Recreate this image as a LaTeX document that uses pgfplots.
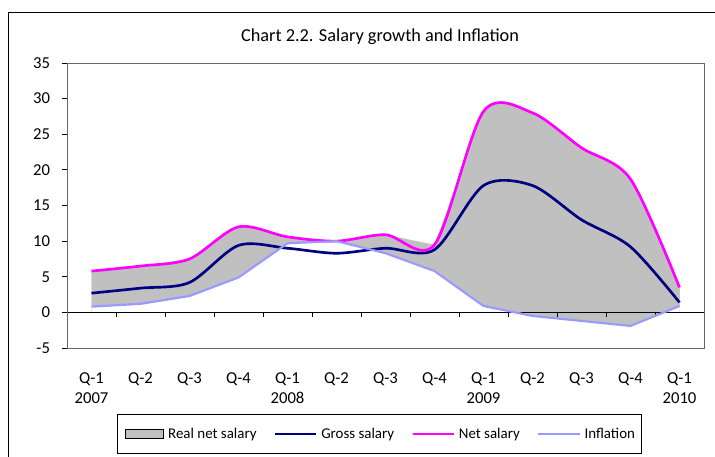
\documentclass[border=0pt]{standalone}
\usepackage{fontspec}
\setmainfont{Carlito}
\usepackage{pgfplots}
\usepackage{pgfplotstable}
\pgfplotsset{compat=1.18}

\definecolor{netc}{HTML}{FF00FF}
\definecolor{grossc}{HTML}{000080}
\definecolor{inflc}{HTML}{9999FF}
\definecolor{areac}{HTML}{C0C0C0}

% quarterly growth rates, %
\pgfplotstableread{
x net gross infl
0 5.8 2.7 0.8
1 6.5 3.4 1.2
2 7.5 4.2 2.3
3 12.0 9.4 4.9
4 10.6 9.0 9.7
5 10.0 8.3 10.0
6 10.9 9.0 8.3
7 9.5 8.8 5.8
8 28.2 17.8 0.9
9 28.0 17.8 -0.5
10 23.1 13.0 -1.2
11 18.7 9.2 -1.9
12 3.5 1.4 0.9
}\salary

\begin{document}
\begin{tikzpicture}
\path[use as bounding box] (0,0) rectangle (536.25pt,-342.75pt);
\draw[black, line width=0.75pt] (6pt,-600pt) -- (6pt,-9pt) -- (900pt,-9pt);
\node[anchor=base, font=\fontsize{13.7}{16}\selectfont] at (285pt,-30.75pt) {Chart 2.2. Salary growth and Inflation};

\begin{axis}[
    at={(50.25pt,-261pt)}, anchor=south west,
    scale only axis, width=477.75pt, height=213.75pt,
    xmin=-0.5, xmax=12.5, ymin=-5, ymax=35,
    ytick={-5,0,...,35},
    xtick={0,...,12},
    xticklabels={{Q-1\\2007},Q-2,Q-3,Q-4,{Q-1\\2008},Q-2,Q-3,Q-4,{Q-1\\2009},Q-2,Q-3,Q-4,{Q-1\\2010}},
    axis on top,
    axis line style={gray!80!black, line width=0.75pt},
    tick align=outside, ytick pos=left,
    xtick style={draw=none},
    ytick style={black, line width=0.75pt},
    major tick length=3.75pt,
    /pgf/number format/assume math mode=true,
    tick label style={font=\fontsize{12.5}{15}\selectfont},
    x tick label style={align=center, yshift=-11pt},
    y tick label style={xshift=-5.5pt},
    legend columns=4,
    legend style={at={(0.491,-0.2316)}, anchor=north, draw=black, line width=0.75pt,
        font=\fontsize{11.2}{13}\selectfont, inner xsep=5pt, inner ysep=8pt,
        nodes={inner xsep=0pt},
        /tikz/every odd column/.append style={column sep=3pt},
        /tikz/every even column/.append style={column sep=13pt}},
    legend cell align=left,
]
% real net salary band: gray under the smoothed net line, white under inflation,
% then the straight band between net salary and inflation
\addplot[fill=areac, draw=none, smooth, tension=0.5,
    legend image code/.code={\draw[fill=areac, draw=black, line width=0.75pt] (10.75pt,-3.5pt) rectangle (39.75pt,3.5pt);}]
    table[x=x, y=net] {\salary} \closedcycle;
\addplot[fill=white, draw=none, forget plot] table[x=x, y=infl] {\salary} \closedcycle;
\addplot[fill=areac, draw=none, forget plot]
    coordinates {(0,5.8) (1,6.5) (2,7.5) (3,12.0) (4,10.6) (5,10.0) (6,10.9) (7,9.5) (8,28.2) (9,28.0) (10,23.1) (11,18.7) (12,3.5)
                 (12,0.9) (11,-1.9) (10,-1.2) (9,-0.5) (8,0.9) (7,5.8) (6,8.3) (5,10.0) (4,9.7) (3,4.9) (2,2.3) (1,1.2) (0,0.8)} \closedcycle;

\draw[black, line width=0.75pt] (axis cs:-0.5,-5) -- (axis cs:-0.5,35);
\draw[black, line width=0.75pt] (axis cs:-0.5,0) -- (axis cs:12.5,0);
\draw[black, line width=0.75pt]
    (axis cs:0.5,0) -- ++(0pt,-3.75pt) (axis cs:1.5,0) -- ++(0pt,-3.75pt)
    (axis cs:2.5,0) -- ++(0pt,-3.75pt) (axis cs:3.5,0) -- ++(0pt,-3.75pt)
    (axis cs:4.5,0) -- ++(0pt,-3.75pt) (axis cs:5.5,0) -- ++(0pt,-3.75pt)
    (axis cs:6.5,0) -- ++(0pt,-3.75pt) (axis cs:7.5,0) -- ++(0pt,-3.75pt)
    (axis cs:8.5,0) -- ++(0pt,-3.75pt) (axis cs:9.5,0) -- ++(0pt,-3.75pt)
    (axis cs:10.5,0) -- ++(0pt,-3.75pt) (axis cs:11.5,0) -- ++(0pt,-3.75pt)
    (axis cs:12.5,0) -- ++(0pt,-3.75pt);

\addplot[grossc, line width=2pt, smooth, tension=0.5,
    legend image code/.code={\draw[draw=grossc, line width=1.5pt] (0pt,0pt) -- (31pt,0pt);}]
    table[x=x, y=gross] {\salary};
\addplot[netc, line width=2pt, smooth, tension=0.5,
    legend image code/.code={\draw[draw=netc, line width=1.5pt] (0pt,0pt) -- (31pt,0pt);}]
    table[x=x, y=net] {\salary};
\addplot[inflc, line width=1.6pt,
    legend image code/.code={\draw[draw=inflc, line width=1.5pt] (0pt,0pt) -- (31pt,0pt);}]
    table[x=x, y=infl] {\salary};
\legend{Real net salary, Gross salary, Net salary, Inflation}
\end{axis}
\end{tikzpicture}
\end{document}
